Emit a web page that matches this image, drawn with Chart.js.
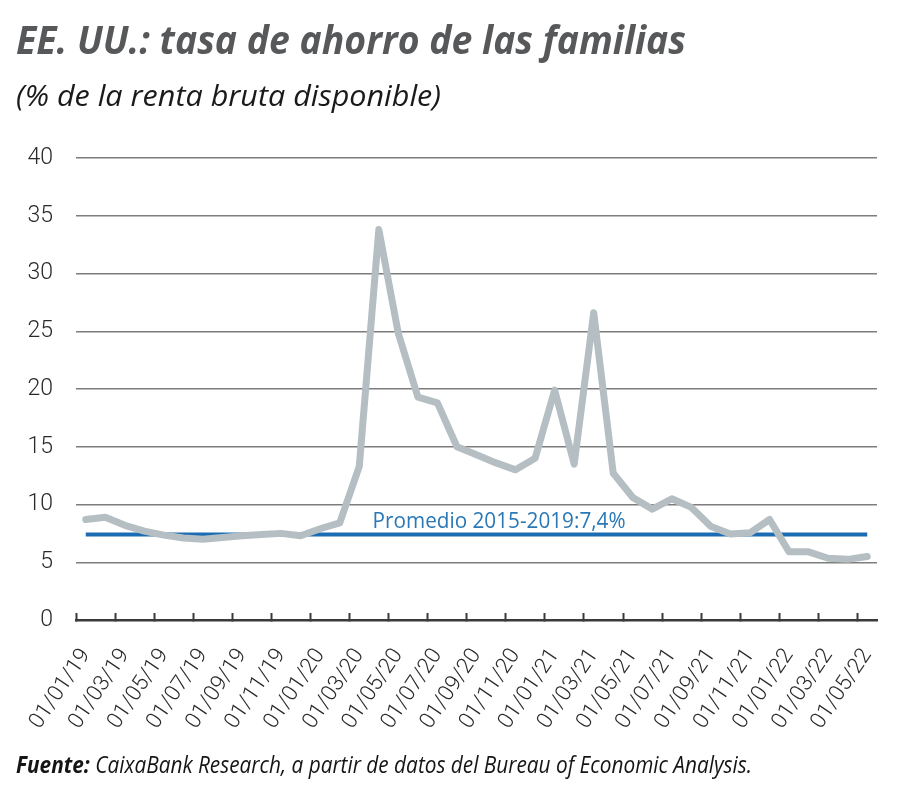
<!DOCTYPE html>
<html>
<head>
<meta charset="utf-8">
<script src="https://cdn.jsdelivr.net/npm/chart.js@4"></script>
<style>
  html, body { margin: 0; padding: 0; background: #fff; }
  #wrap { position: relative; width: 900px; height: 808px; overflow: hidden; }
  #c { position: absolute; left: 0; top: 0; }
  .txt { position: absolute; left: 16px; white-space: nowrap; transform-origin: 0 0; font-family: "Open Sans", sans-serif; }
  #title { top: 19px; font-size: 40px; font-weight: 700; font-style: italic; color: #57585a; line-height: 1; }
  #subtitle { top: 80px; font-size: 29px; font-weight: 400; font-style: italic; color: #1a1a1a; line-height: 1; }
  #footer { top: 752px; font-size: 24px; font-style: italic; color: #151515; line-height: 1; }
  #footer b { font-weight: 700; }
</style>
</head>
<body>
<div id="wrap">
  <canvas id="c" width="900" height="808"></canvas>
  <div id="title" class="txt">EE. UU.: tasa de ahorro de las familias</div>
  <div id="subtitle" class="txt">(% de la renta bruta disponible)</div>
  <div id="footer" class="txt"><b>Fuente:</b> CaixaBank Research, a partir de datos del Bureau of Economic Analysis.</div>
</div>
<script>
// ---- data ----
const categories = [
  "01/01/19","01/02/19","01/03/19","01/04/19","01/05/19","01/06/19","01/07/19","01/08/19","01/09/19","01/10/19","01/11/19","01/12/19",
  "01/01/20","01/02/20","01/03/20","01/04/20","01/05/20","01/06/20","01/07/20","01/08/20","01/09/20","01/10/20","01/11/20","01/12/20",
  "01/01/21","01/02/21","01/03/21","01/04/21","01/05/21","01/06/21","01/07/21","01/08/21","01/09/21","01/10/21","01/11/21","01/12/21",
  "01/01/22","01/02/22","01/03/22","01/04/22","01/05/22"
];
const savingRate = [
  8.7, 8.9, 8.2, 7.7, 7.35, 7.1, 7.0, 7.15, 7.3, 7.4, 7.5, 7.3,
  7.9, 8.4, 13.3, 33.8, 24.8, 19.3, 18.8, 15.0, 14.3, 13.6, 13.0, 14.0,
  19.9, 13.5, 26.6, 12.7, 10.6, 9.6, 10.5, 9.75, 8.1, 7.45, 7.55, 8.7,
  5.9, 5.9, 5.35, 5.25, 5.5
];
const averageValue = 7.4;
const averageSeries = categories.map(() => averageValue);
const averageLabel = "Promedio 2015-2019:7,4%";
const yTicks = [0, 5, 10, 15, 20, 25, 30, 35, 40];

// fit HTML texts to reference widths
function fitWidth(id, target) {
  const el = document.getElementById(id);
  const w = el.getBoundingClientRect().width;
  if (w > 0) el.style.transform = 'scaleX(' + (target / w) + ')';
}
fitWidth('title', 670);
fitWidth('subtitle', 425);
fitWidth('footer', 736);

const annotationPlugin = {
  id: 'avgLabel',
  afterDatasetsDraw(chart) {
    const ctx = chart.ctx;
    const xs = chart.scales.x, ys = chart.scales.y;
    const x = xs.getPixelForValue(14.68);
    const y = ys.getPixelForValue(averageValue) - 7;
    ctx.save();
    ctx.font = '400 21px "Open Sans", sans-serif';
    ctx.fillStyle = '#2a78b6';
    ctx.textBaseline = 'alphabetic';
    ctx.textAlign = 'left';
    const w = ctx.measureText(averageLabel).width;
    ctx.translate(x, y);
    ctx.scale(253 / w, 1);
    ctx.fillText(averageLabel, 0, 0);
    ctx.restore();
  }
};

new Chart(document.getElementById('c'), {
  type: 'line',
  data: {
    labels: categories,
    datasets: [
      {
        data: averageSeries,
        borderColor: '#1b6cb2',
        borderWidth: 4,
        pointRadius: 0,
        borderCapStyle: 'butt',
        order: 2
      },
      {
        data: savingRate,
        borderColor: '#b5bfc3',
        borderWidth: 7,
        pointRadius: 0,
        tension: 0,
        borderJoinStyle: 'round',
        borderCapStyle: 'round',
        order: 1
      }
    ]
  },
  options: {
    responsive: false,
    animation: false,
    devicePixelRatio: 1,
    layout: { padding: { left: 16, right: 23, top: 158, bottom: 68 } },
    plugins: { legend: { display: false }, tooltip: { enabled: false }, title: { display: false } },
    scales: {
      x: {
        type: 'category',
        offset: true,
        afterFit(s) { s.height = 120; s.paddingLeft = 0; s.paddingRight = 0; },
        border: { display: true, color: '#3a3a3a', width: 2.5 },
        grid: {
          offset: true,
          drawOnChartArea: false,
          drawTicks: true,
          tickLength: -7,
          tickWidth: 2,
          tickColor: (c) => (c.index % 2 === 0 ? '#3a3a3a' : 'rgba(0,0,0,0)')
        },
        ticks: {
          autoSkip: false,
          minRotation: 56,
          maxRotation: 56,
          padding: 31,
          color: '#2a2a2a',
          font: { family: 'Roboto', size: 22, weight: 300 },
          callback(v, i) { return i % 2 === 0 ? categories[i] : ''; }
        }
      },
      y: {
        min: 0,
        max: 40,
        afterFit(s) { s.width = 60; s.paddingTop = 0; s.paddingBottom = 0; },
        afterBuildTicks(s) { s.ticks = yTicks.map(v => ({ value: v })); },
        border: { display: false },
        grid: { color: '#7d7d7d', lineWidth: 1.5, drawTicks: false },
        ticks: {
          padding: 23,
          color: '#2a2a2a',
          font: { family: 'Roboto', size: 23, weight: 300 }
        }
      }
    }
  },
  plugins: [annotationPlugin]
});
</script>
</body>
</html>
